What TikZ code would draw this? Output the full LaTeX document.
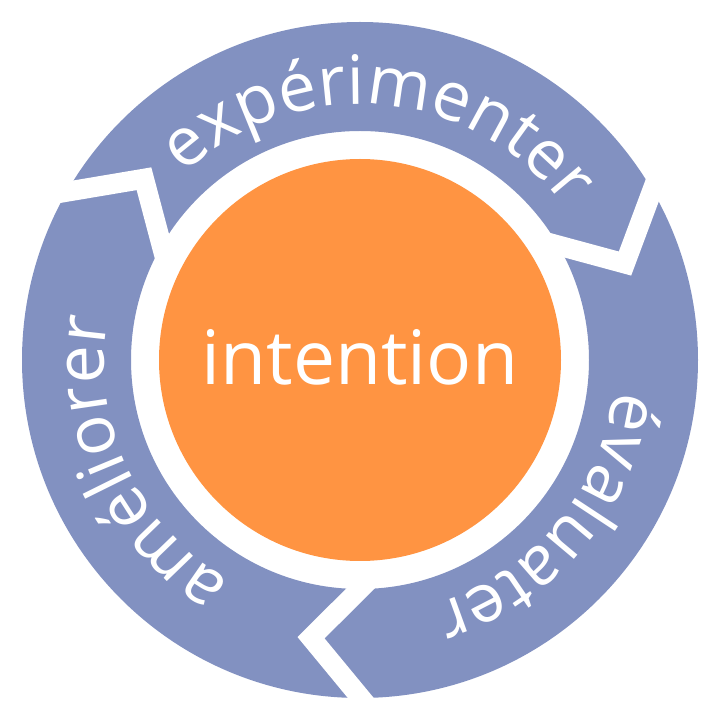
\documentclass[tikz,border=0pt]{standalone}
\usepackage{fontspec}
\setmainfont{Open Sans}
\usetikzlibrary{decorations.text,calc}
\definecolor{ringblue}{RGB}{130,145,193}
\definecolor{corange}{RGB}{255,148,66}
\begin{document}
\begin{tikzpicture}[x=1pt,y=1pt,
  gapline/.style={white,line width=20pt,line join=miter,miter limit=10},
  arctext/.style={decorate,decoration={text along path,text align=center,
     text={|\color{white}\fontsize{68}{68}\selectfont|#1}}}]
\useasboundingbox (0,0) rectangle (716,716);
\coordinate (c) at (360,356);
% ring
\fill[ringblue,even odd rule] (c) circle[radius=338] (c) circle[radius=229];
% gaps (chevrons)
\foreach \b in {30,150,270}{
  \coordinate (o) at ($(c)+(\b:337)$);
  \coordinate (t) at ($(c)+(\b-10:282)$);
  \coordinate (i) at ($(c)+(\b:229)$);
  \draw[gapline] ($(t)!1.5!(o)$) -- (t) -- ($(t)!1.5!(i)$);
}
% centre
\fill[corange] (c) circle[radius=201];
\node[anchor=base,text=white,font=\fontsize{75}{75}\selectfont,inner sep=0] (int) at (360,331) {intention};
% arc texts
\path[arctext={expérimenter}] ($(c)+(160:256)$) arc[start angle=160,end angle=10,radius=256];
\path[arctext={évaluater}] ($(c)+(35:256)$) arc[start angle=35,end angle=-115,radius=256];
\path[arctext={améliorer}] ($(c)+(280:256)$) arc[start angle=280,end angle=130,radius=256];
\end{tikzpicture}
\end{document}
